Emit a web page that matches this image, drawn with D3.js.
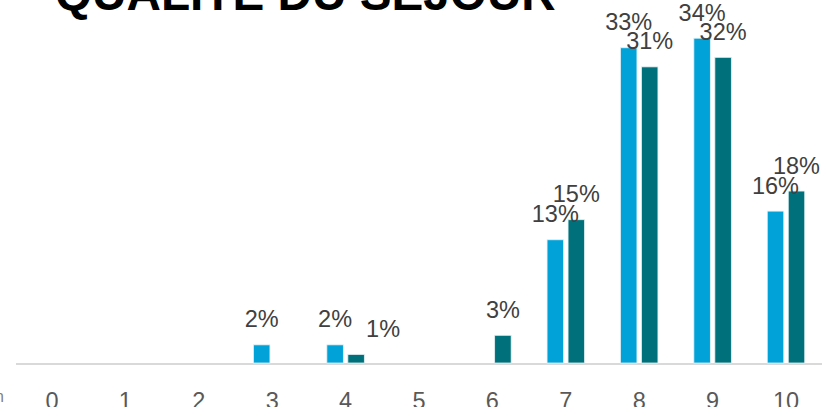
<!DOCTYPE html>
<html>
<head>
<meta charset="utf-8">
<script src="https://cdn.jsdelivr.net/npm/d3@7"></script>
<style>
  html, body { margin: 0; padding: 0; background: #fff; }
  #vis { width: 822px; height: 407px; overflow: hidden; }
</style>
</head>
<body>
<div id="vis"></div>
<script>
// ---- Data ----
const TITLE = "QUALITE DU SEJOUR";
const categories = ["0", "1", "2", "3", "4", "5", "6", "7", "8", "9", "10"];
const series = ["a", "b"];
const seriesColors = ["#00a2d8", "#00717a"];
// values in %
const valuesA = [0, 0, 0, 1.9, 1.9, 0, 0, 12.9, 33, 34, 15.9];
const valuesB = [0, 0, 0, 0, 0.9, 0, 2.9, 15, 31, 32, 18];
const labelsA = ["", "", "", "2%", "2%", "", "", "13%", "33%", "34%", "16%"];
const labelsB = ["", "", "", "", "1%", "", "3%", "15%", "31%", "32%", "18%"];
// Excel nudged a few labels sideways to avoid overlap
const labelShiftB = [0, 0, 0, 0, 27, 0, 0, 0, 0, 0, 0];

const width = 822;
const height = 407;
const baseY = 363;

const svg = d3.select("#vis")
  .append("svg")
  .attr("width", width)
  .attr("height", height)
  .style("display", "block");

// ---- Scales ----
const x = d3.scaleBand()
  .domain(categories)
  .range([15.3, 822.7])
  .padding(0);

const bw = x.bandwidth();
const x1 = d3.scaleBand()
  .domain(series)
  .range([bw / 2 - 18.75, bw / 2 + 18.75])
  .paddingInner(0.214)
  .paddingOuter(0);

const y = d3.scaleLinear().domain([0, 38]).range([baseY, 0]);

const color = d3.scaleOrdinal().domain(series).range(seriesColors);

// ---- Title (cut off at the top) ----
svg.append("text")
  .attr("x", 55)
  .attr("y", 9.5)
  .style("font", "bold 47.7px 'Liberation Sans', Arial, sans-serif")
  .style("fill", "#000")
  .text(TITLE);

// ---- Axis line ----
svg.append("line")
  .attr("x1", 16)
  .attr("x2", width)
  .attr("y1", baseY + 1)
  .attr("y2", baseY + 1)
  .attr("stroke", "#d9d9d9")
  .attr("stroke-width", 2);

// ---- Bars ----
const rows = categories.map((c, i) => ({
  cat: c,
  items: [
    { key: "a", v: valuesA[i], label: labelsA[i], shift: 0 },
    { key: "b", v: valuesB[i], label: labelsB[i], shift: labelShiftB[i] }
  ]
}));

const groups = svg.append("g")
  .selectAll("g")
  .data(rows)
  .join("g")
  .attr("transform", d => `translate(${x(d.cat)},0)`);

groups.selectAll("rect")
  .data(d => d.items.filter(e => e.v > 0))
  .join("rect")
  .attr("x", d => x1(d.key))
  .attr("width", x1.bandwidth())
  .attr("y", d => y(d.v))
  .attr("height", d => baseY - y(d.v))
  .attr("fill", d => color(d.key))
  .attr("stroke", "#e3f1f5")
  .attr("stroke-width", 0.8);

groups.selectAll("text.val")
  .data(d => d.items.filter(e => e.label))
  .join("text")
  .attr("class", "val")
  .attr("x", d => x1(d.key) + x1.bandwidth() / 2 + d.shift)
  .attr("y", d => y(d.v) - 17.5)
  .attr("text-anchor", "middle")
  .style("font", "23.5px 'Liberation Sans', Arial, sans-serif")
  .style("fill", "#404040")
  .text(d => d.label);

// ---- Category labels ----
const xAxis = d3.axisBottom(x).tickSize(0).tickPadding(0);
const axisG = svg.append("g")
  .attr("transform", `translate(0,${baseY})`)
  .call(xAxis);
axisG.select(".domain").remove();
axisG.selectAll("text")
  .attr("dy", null)
  .attr("y", 46.3)
  .style("font", "23.5px 'Liberation Sans', Arial, sans-serif")
  .style("fill", "#595959");

// clipped fragment of a label at the far left
svg.append("text")
  .attr("x", 4)
  .attr("y", 402)
  .attr("text-anchor", "end")
  .style("font", "16px 'Liberation Sans', Arial, sans-serif")
  .style("fill", "#7f7f7f")
  .text("n");
</script>
</body>
</html>
